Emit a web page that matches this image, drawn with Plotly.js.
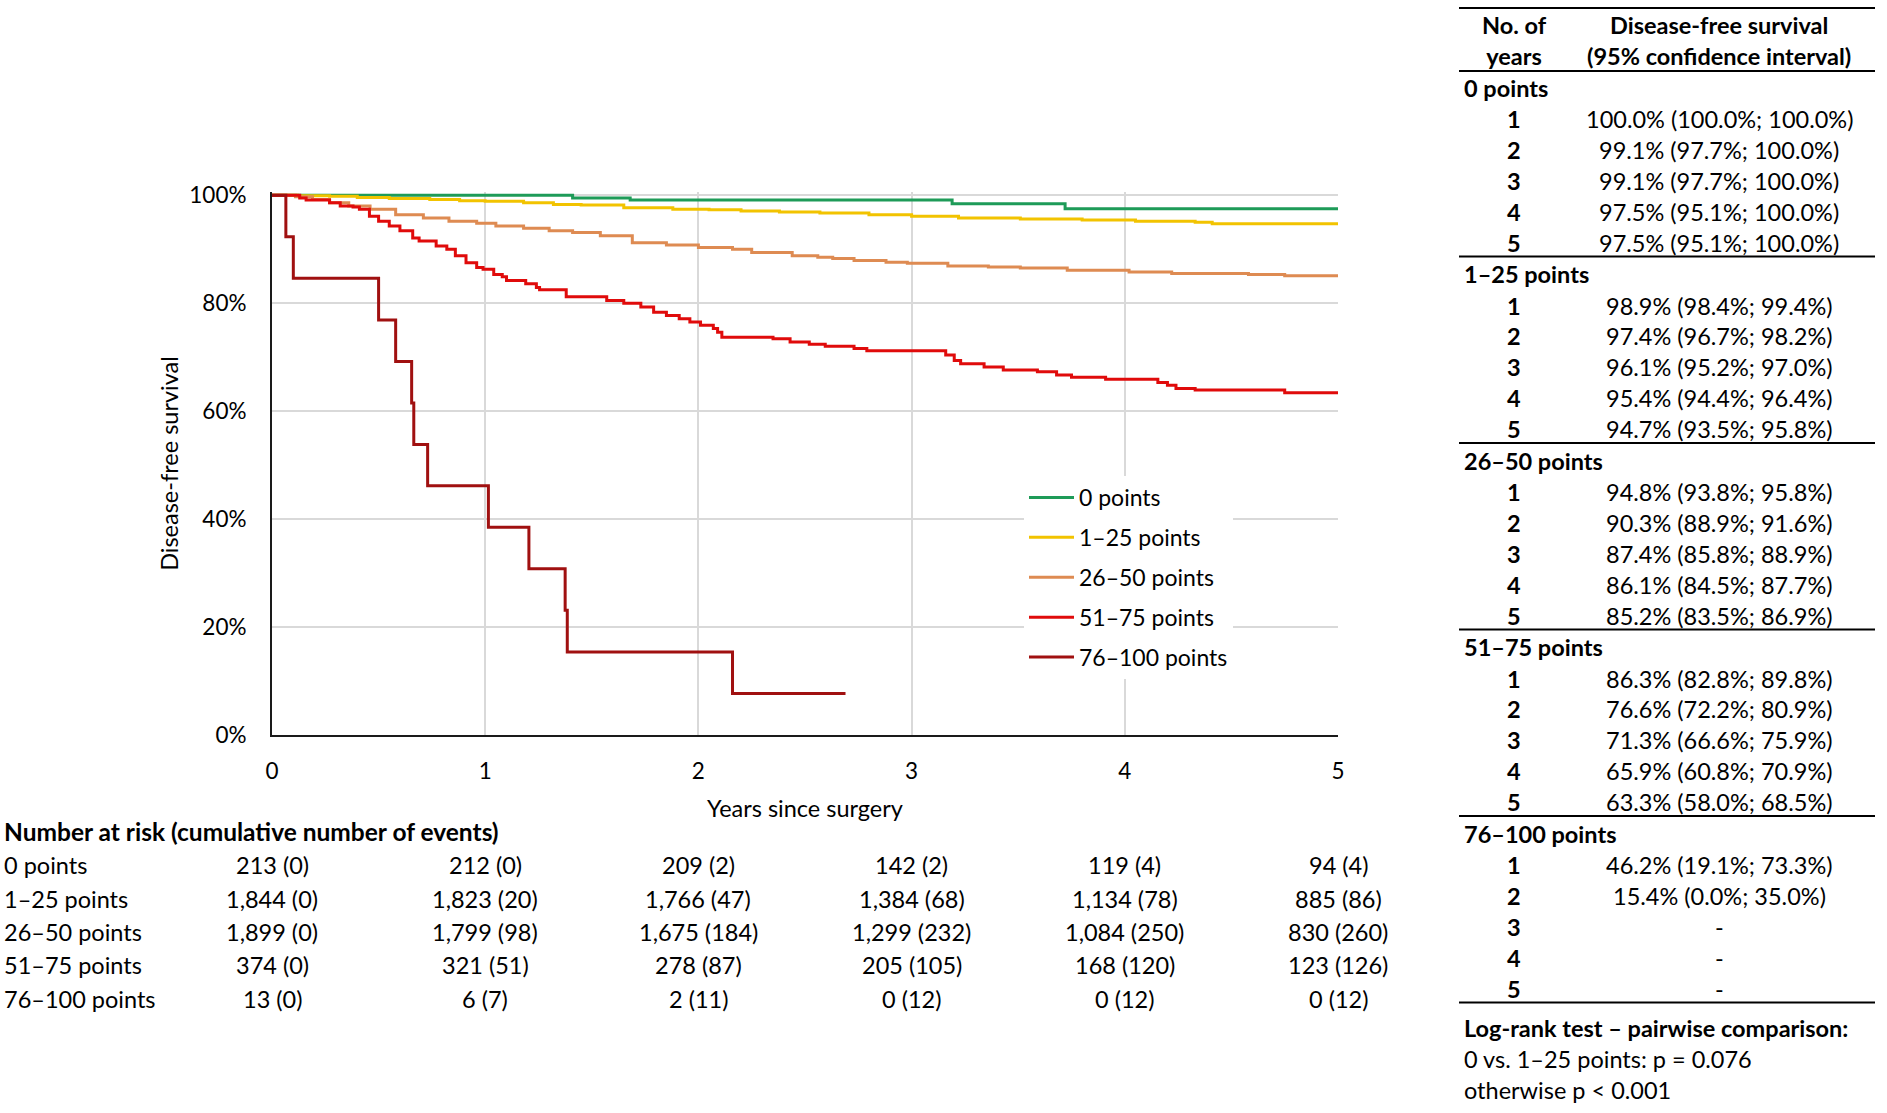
<!DOCTYPE html>
<html>
<head>
<meta charset="utf-8">
<script src="https://cdn.plot.ly/plotly-3.0.1.min.js"></script>
<style>html,body{margin:0;padding:0;background:#fff;}#chart{width:1887px;height:1113px;}</style>
</head>
<body>
<div id="chart"></div>
<script>
// ---------- DATA ----------
const groupNames = ['0 points', '1–25 points', '26–50 points', '51–75 points', '76–100 points'];
const groupColors = ['#1E9B58', '#F2C300', '#DE8B52', '#E00B0B', '#A01010'];

// Kaplan-Meier step points (years, disease-free survival %)
const t_0 = [0, 1.41, 1.68, 3.19, 3.72, 5.0];
const s_0 = [100, 99.5, 99.1, 98.4, 97.5, 97.5];

const t_1_25 = [0, 0.12, 0.27, 0.40, 0.55, 0.74, 0.88, 1.0, 1.18, 1.32, 1.45, 1.65, 1.88, 2.05, 2.2, 2.38, 2.57, 2.8, 3.0, 3.22, 3.51, 3.8, 4.05, 4.33, 4.41, 5.0];
const s_1_25 = [100, 99.9, 99.8, 99.6, 99.4, 99.2, 99.0, 98.9, 98.6, 98.3, 98.2, 97.7, 97.4, 97.3, 97.1, 96.9, 96.7, 96.4, 96.1, 95.8, 95.6, 95.4, 95.2, 95.0, 94.7, 94.7];

const t_26_50 = [0, 0.11, 0.19, 0.27, 0.36, 0.46, 0.58, 0.71, 0.83, 0.96, 1.05, 1.18, 1.30, 1.41, 1.54, 1.69, 1.85, 2.0, 2.16, 2.25, 2.44, 2.56, 2.63, 2.73, 2.88, 2.98, 3.17, 3.36, 3.51, 3.73, 4.02, 4.22, 4.58, 4.75, 5.0];
const s_26_50 = [100, 99.7, 99.2, 98.6, 98.0, 97.4, 96.4, 95.8, 95.2, 94.8, 94.3, 93.9, 93.4, 93.1, 92.5, 91.2, 90.8, 90.3, 90.0, 89.4, 88.8, 88.5, 88.3, 87.9, 87.6, 87.4, 86.9, 86.7, 86.5, 86.1, 85.8, 85.5, 85.3, 85.1, 85.1];

const t_51_75 = [0, 0.13, 0.16, 0.27, 0.32, 0.38, 0.41, 0.457, 0.50, 0.55, 0.60, 0.66, 0.69, 0.77, 0.82, 0.86, 0.91, 0.96, 0.99, 1.04, 1.08, 1.10, 1.19, 1.24, 1.255, 1.38, 1.57, 1.65, 1.73, 1.79, 1.85, 1.91, 1.96, 2.01, 2.07, 2.09, 2.11, 2.35, 2.43, 2.52, 2.595, 2.73, 2.79, 3.16, 3.20, 3.23, 3.34, 3.43, 3.59, 3.68, 3.75, 3.91, 4.155, 4.20, 4.24, 4.33, 4.75, 5.0];
const s_51_75 = [100, 99.5, 99.1, 98.6, 98.0, 97.8, 97.4, 96.1, 95.2, 94.3, 93.4, 92.1, 91.5, 90.6, 90.0, 88.8, 87.5, 86.6, 86.3, 85.3, 84.9, 84.2, 83.6, 82.9, 82.5, 81.2, 80.5, 80.0, 79.3, 78.3, 77.7, 77.1, 76.5, 75.9, 75.3, 74.6, 73.7, 73.4, 72.8, 72.4, 72.0, 71.6, 71.2, 70.4, 69.4, 68.8, 68.2, 67.6, 67.3, 66.7, 66.3, 65.9, 65.3, 64.8, 64.2, 63.9, 63.4, 63.4];

const t_76_100 = [0, 0.065, 0.10, 0.50, 0.58, 0.655, 0.665, 0.73, 1.015, 1.205, 1.375, 1.385, 2.16, 2.69];
const s_76_100 = [100, 92.3, 84.6, 76.9, 69.2, 61.5, 53.8, 46.2, 38.5, 30.8, 23.1, 15.4, 7.7, 7.7];

// Number at risk (cumulative number of events) at years 0..5
const riskYears = [0, 1, 2, 3, 4, 5];
const risk_0 = [213, 212, 209, 142, 119, 94];
const events_0 = [0, 0, 2, 2, 4, 4];
const risk_1_25 = [1844, 1823, 1766, 1384, 1134, 885];
const events_1_25 = [0, 20, 47, 68, 78, 86];
const risk_26_50 = [1899, 1799, 1675, 1299, 1084, 830];
const events_26_50 = [0, 98, 184, 232, 250, 260];
const risk_51_75 = [374, 321, 278, 205, 168, 123];
const events_51_75 = [0, 51, 87, 105, 120, 126];
const risk_76_100 = [13, 6, 2, 0, 0, 0];
const events_76_100 = [0, 7, 11, 12, 12, 12];

// Disease-free survival table (estimate, lower, upper) for years 1..5
const tableYears = [1, 2, 3, 4, 5];
const est_0 = [100.0, 99.1, 99.1, 97.5, 97.5];
const lo_0 = [100.0, 97.7, 97.7, 95.1, 95.1];
const hi_0 = [100.0, 100.0, 100.0, 100.0, 100.0];
const est_1_25 = [98.9, 97.4, 96.1, 95.4, 94.7];
const lo_1_25 = [98.4, 96.7, 95.2, 94.4, 93.5];
const hi_1_25 = [99.4, 98.2, 97.0, 96.4, 95.8];
const est_26_50 = [94.8, 90.3, 87.4, 86.1, 85.2];
const lo_26_50 = [93.8, 88.9, 85.8, 84.5, 83.5];
const hi_26_50 = [95.8, 91.6, 88.9, 87.7, 86.9];
const est_51_75 = [86.3, 76.6, 71.3, 65.9, 63.3];
const lo_51_75 = [82.8, 72.2, 66.6, 60.8, 58.0];
const hi_51_75 = [89.8, 80.9, 75.9, 70.9, 68.5];
const est_76_100 = [46.2, 15.4, null, null, null];
const lo_76_100 = [19.1, 0.0, null, null, null];
const hi_76_100 = [73.3, 35.0, null, null, null];

const logRankTitle = 'Log-rank test – pairwise comparison:';
const logRankLines = ['0 vs. 1–25 points: p = 0.076', 'otherwise p < 0.001'];

// ---------- LAYOUT HELPERS ----------
const FONT = 'Lato, "Open Sans", sans-serif';
const TXT = '#000000';
const FS = 23.5;      // table / label text size
const FT = 22.5;      // tick label size
const W = 1887, H = 1113;
const plotL = 272, plotW = 1066, plotT = 192, plotB = 735;
const plotH = plotB - plotT;
const PX = x => (x - plotL) / plotW;
const PY = y => (plotB - y) / plotH;

const times = [t_0, t_1_25, t_26_50, t_51_75, t_76_100];
const surv = [s_0, s_1_25, s_26_50, s_51_75, s_76_100];
const risks = [risk_0, risk_1_25, risk_26_50, risk_51_75, risk_76_100];
const events = [events_0, events_1_25, events_26_50, events_51_75, events_76_100];
const ests = [est_0, est_1_25, est_26_50, est_51_75, est_76_100];
const los = [lo_0, lo_1_25, lo_26_50, lo_51_75, lo_76_100];
const his = [hi_0, hi_1_25, hi_26_50, hi_51_75, hi_76_100];

const traces = groupNames.map((name, i) => ({
  type: 'scatter', mode: 'lines', name: name,
  x: times[i], y: surv[i],
  line: {shape: 'hv', color: groupColors[i], width: 3},
  legendgroup: 'g' + i,
  hoverinfo: 'skip'
}));

const annotations = [];
const shapes = [];
const fmt = n => n.toLocaleString('en-US');
const tfont = {size: FS, color: TXT, family: FONT};

// Number-at-risk table
annotations.push({xref: 'paper', yref: 'paper', x: PX(2), y: PY(831), xanchor: 'left', yanchor: 'middle',
  text: '<b>Number at risk (cumulative number of events)</b>', showarrow: false, font: {size: 24.5, color: TXT, family: FONT}});
const riskRowY = [865, 899, 932, 965, 999];
groupNames.forEach((name, i) => {
  annotations.push({xref: 'paper', yref: 'paper', x: PX(2), y: PY(riskRowY[i]), xanchor: 'left', yanchor: 'middle',
    text: name, showarrow: false, font: tfont});
  riskYears.forEach((yr, j) => {
    annotations.push({xref: 'x', yref: 'paper', x: yr, y: PY(riskRowY[i]), xanchor: 'center', yanchor: 'middle',
      text: fmt(risks[i][j]) + ' (' + fmt(events[i][j]) + ')', showarrow: false, font: tfont});
  });
});

// Right-hand table
const tabL = 1459, tabR = 1875, colYear = 1514, colVal = 1719, colLabel = 1462;
const tline = (y, w) => shapes.push({type: 'line', xref: 'paper', yref: 'paper', x0: PX(tabL), x1: PX(tabR), y0: PY(y), y1: PY(y), line: {color: '#000', width: w}});
tline(8, 2);
annotations.push({xref: 'paper', yref: 'paper', x: PX(colYear), y: PY(40), xanchor: 'center', yanchor: 'middle',
  text: '<b>No. of<br>years</b>', showarrow: false, font: tfont});
annotations.push({xref: 'paper', yref: 'paper', x: PX(colVal), y: PY(40), xanchor: 'center', yanchor: 'middle',
  text: '<b>Disease-free survival<br>(95% confidence interval)</b>', showarrow: false, font: tfont});
tline(71, 2);
const pct = v => v.toFixed(1) + '%';
const blockH = 186.5, rowH = 30.9;
groupNames.forEach((name, i) => {
  const L = 87.5 + i * blockH;
  annotations.push({xref: 'paper', yref: 'paper', x: PX(colLabel), y: PY(L), xanchor: 'left', yanchor: 'middle',
    text: '<b>' + name + '</b>', showarrow: false, font: tfont});
  tableYears.forEach((yr, k) => {
    const yy = L + 31.5 + k * rowH;
    annotations.push({xref: 'paper', yref: 'paper', x: PX(colYear), y: PY(yy), xanchor: 'center', yanchor: 'middle',
      text: '<b>' + yr + '</b>', showarrow: false, font: tfont});
    const e = ests[i][k];
    const txt = (e === null) ? '-' : pct(e) + ' (' + pct(los[i][k]) + '; ' + pct(his[i][k]) + ')';
    annotations.push({xref: 'paper', yref: 'paper', x: PX(colVal), y: PY(yy), xanchor: 'center', yanchor: 'middle',
      text: txt, showarrow: false, font: tfont});
  });
  tline(L + 169, 2);
});
annotations.push({xref: 'paper', yref: 'paper', x: PX(colLabel), y: PY(1028), xanchor: 'left', yanchor: 'middle',
  text: '<b>' + logRankTitle + '</b>', showarrow: false, font: tfont});
logRankLines.forEach((s, k) => {
  annotations.push({xref: 'paper', yref: 'paper', x: PX(colLabel), y: PY(1059 + k * 31), xanchor: 'left', yanchor: 'middle',
    text: s, showarrow: false, font: tfont});
});

const layout = {
  width: W, height: H,
  margin: {l: plotL, r: W - plotL - plotW, t: plotT, b: H - plotB, pad: 0},
  paper_bgcolor: '#fff', plot_bgcolor: '#fff',
  font: {family: FONT, size: FS, color: TXT},
  showlegend: true,
  legend: {x: PX(1024), y: PY(476), xanchor: 'left', yanchor: 'top', bgcolor: '#fff', borderwidth: 0,
    font: {size: 23, color: TXT, family: FONT}, tracegroupgap: 7, traceorder: 'grouped', itemwidth: 45},
  xaxis: {range: [0, 5], dtick: 1, tick0: 0, showgrid: true, gridcolor: '#d9d9d9', gridwidth: 2,
    zeroline: false, showline: true, linecolor: '#1a1a1a', linewidth: 2,
    ticks: 'outside', ticklen: 15, tickcolor: 'rgba(0,0,0,0)',
    tickfont: {size: FT, color: TXT, family: FONT},
    title: {text: 'Years since surgery', font: tfont, standoff: 18},
    fixedrange: true},
  yaxis: {range: [0, 100.6], dtick: 20, tick0: 0, ticksuffix: '%', showgrid: true, gridcolor: '#d9d9d9', gridwidth: 2,
    zeroline: false, showline: true, linecolor: '#1a1a1a', linewidth: 2,
    ticks: 'outside', ticklen: 19, tickcolor: 'rgba(0,0,0,0)',
    tickfont: {size: FT, color: TXT, family: FONT},
    title: {text: 'Disease-free survival', font: tfont, standoff: 4},
    fixedrange: true},
  annotations: annotations,
  shapes: shapes
};

Plotly.newPlot('chart', traces, layout, {displayModeBar: false, staticPlot: true});
</script>
</body>
</html>
